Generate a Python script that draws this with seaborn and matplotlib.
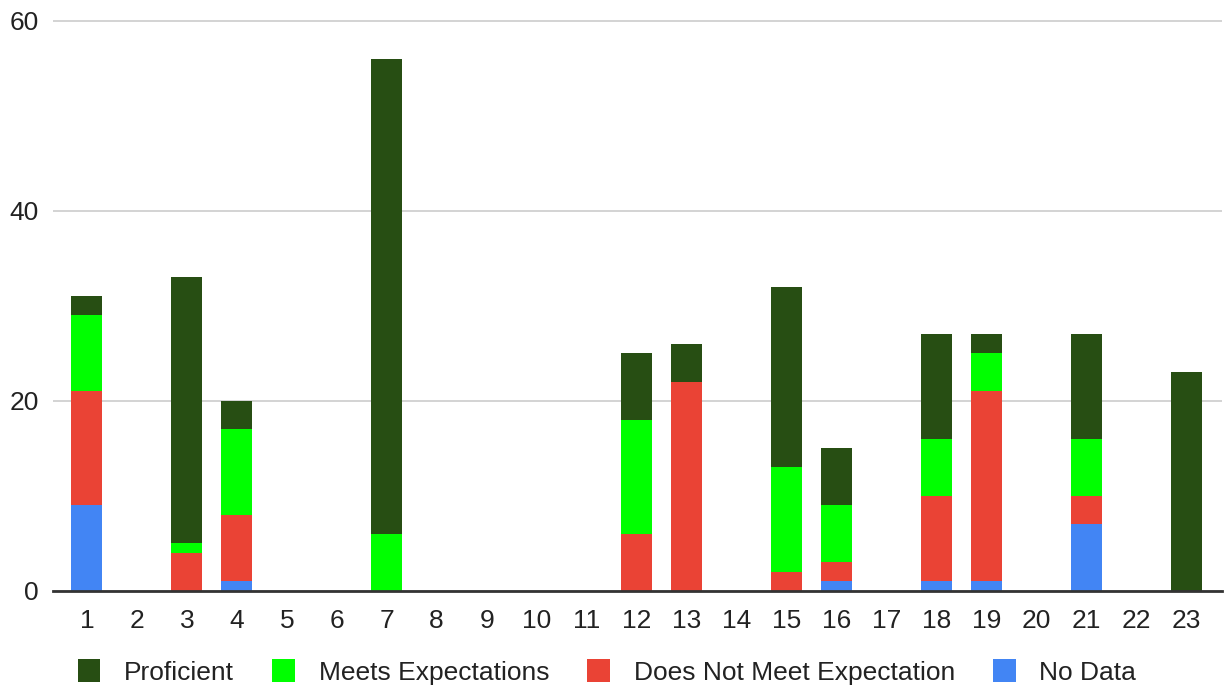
import matplotlib
matplotlib.use("Agg")
import matplotlib.pyplot as plt
from matplotlib.patches import Patch
import numpy as np
import pandas as pd
import seaborn as sns

# Categories along the x axis
categories = [str(i) for i in range(1, 24)]

# Counts per category for each rating level
no_data = [9, 0, 0, 1, 0, 0, 0, 0, 0, 0, 0, 0, 0, 0, 0, 1, 0, 1, 1, 0, 7, 0, 0]
does_not_meet = [12, 0, 4, 7, 0, 0, 0, 0, 0, 0, 0, 6, 22, 0, 2, 2, 0, 9, 20, 0, 3, 0, 0]
meets = [8, 0, 1, 9, 0, 0, 6, 0, 0, 0, 0, 12, 0, 0, 11, 6, 0, 6, 4, 0, 6, 0, 0]
proficient = [2, 0, 28, 3, 0, 0, 50, 0, 0, 0, 0, 7, 4, 0, 19, 6, 0, 11, 2, 0, 11, 0, 23]

series_names = ["Proficient", "Meets Expectations", "Does Not Meet Expectation", "No Data"]
colors = ["#274e13", "#00ff00", "#ea4335", "#4285f4"]
y_ticks = [0, 20, 40, 60]

sns.set_theme(style="white")
plt.rcParams["font.family"] = ["Liberation Sans", "DejaVu Sans"]

fig = plt.figure(figsize=(12.24, 6.87), dpi=100)
ax = fig.add_axes([53 / 1224, 1 - 591 / 687, (1222 - 53) / 1224, (591 - 19) / 687])

# Stack from the bottom: No Data, Does Not Meet, Meets, Proficient
stack_bottom_up = [np.array(no_data), np.array(does_not_meet), np.array(meets), np.array(proficient)]
cumulative = np.cumsum(stack_bottom_up, axis=0)

# Draw the tallest cumulative layer first so lower layers overlay it
for level in range(3, -1, -1):
    df = pd.DataFrame({"cat": categories, "value": cumulative[level]})
    sns.barplot(data=df, x="cat", y="value", order=categories, color=colors[3 - level],
                saturation=1, width=0.62, linewidth=0, ax=ax, errorbar=None)

ax.set_ylim(0, 60.2)
ax.set_xlim(-0.68, 22.72)
ax.set_yticks(y_ticks)
ax.set_yticklabels([str(t) for t in y_ticks])
ax.set_xlabel("")
ax.set_ylabel("")
ax.yaxis.grid(True, color="#cccccc", linewidth=1.2)
ax.set_axisbelow(True)
for side in ["top", "right", "left"]:
    ax.spines[side].set_visible(False)
ax.spines["bottom"].set_color("#333333")
ax.spines["bottom"].set_linewidth(2)
ax.tick_params(axis="both", length=0, labelsize=19, labelcolor="#222222")
ax.tick_params(axis="y", pad=10)
ax.tick_params(axis="x", pad=13)

handles = [Patch(facecolor=c, edgecolor="none") for c in colors]
fig.legend(handles, series_names, loc="center", bbox_to_anchor=(0.496, 1 - 672 / 687),
           ncol=4, frameon=False, fontsize=19, handlelength=0.85, handleheight=0.95,
           handletextpad=0.9, columnspacing=1.45, labelcolor="#222222")

fig.savefig("out.png", dpi=100)
